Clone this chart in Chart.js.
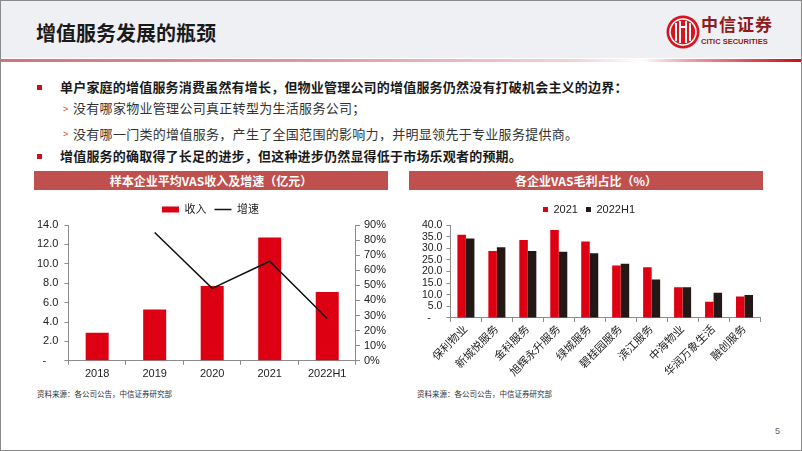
<!DOCTYPE html>
<html lang="zh-CN">
<head>
<meta charset="utf-8">
<script src="https://cdn.jsdelivr.net/npm/chart.js@4.4.1/dist/chart.umd.min.js"></script>
<style>
  html, body { margin: 0; padding: 0; background: #fff; }
  #page {
    position: relative; width: 800px; height: 449px; overflow: hidden;
    border: 1px solid #8a8a8a; background: #fff;
    font-family: "Noto Sans CJK SC", "Liberation Sans", sans-serif;
  }
  #header { position: absolute; left: 0; top: 0; width: 800px; height: 57px; background: #eff0f3; }
  #redline {
    position: absolute; left: 0; top: 58px; width: 800px; height: 3px;
    background: linear-gradient(to right, #cf747b 0%, #dc9ca1 40%, #f1d4d6 72%, #fff 80%, #eaa0a3 86%, #cc0a1e 100%);
  }
  #title { position: absolute; left: 35px; top: 18px; font-size: 20px; font-weight: bold; color: #1a1a1a; line-height: 28px; }
  #logo { position: absolute; left: 665px; top: 14px; }
  #logo-cn { position: absolute; left: 700px; top: 12px; font-size: 17px; font-weight: bold; color: #8f1a20; letter-spacing: 1px; line-height: 22px; }
  #logo-en { position: absolute; left: 700px; top: 36px; font-family: "Liberation Sans", sans-serif; font-size: 7.5px; font-weight: bold; color: #8f1a20; line-height: 10px; }
  .b1 { position: absolute; left: 59px; font-size: 13px; font-weight: bold; color: #1a1a1a; line-height: 18px; letter-spacing: 0.2px; white-space: nowrap; }
  .b2 {
    position: absolute; left: 72px; font-family: "Noto Sans CJK SC", sans-serif; font-size: 13px;
    color: #333; line-height: 18px; letter-spacing: 0.3px; white-space: nowrap;
  }
  .b2 span { font-family: "Noto Sans CJK TC", "Noto Sans CJK SC", sans-serif; color: #333; }
  .sq { position: absolute; left: 36px; width: 5px; height: 5px; background: #c8101e; }
  .arr { position: absolute; left: 62px; font-size: 9px; color: #d0451b; line-height: 10px; font-family: "Liberation Sans", sans-serif; }
  .bar-title {
    position: absolute; top: 170px; height: 19px; width: 354px; background: #c0504d;
    color: #fff; font-size: 12px; font-weight: bold; text-align: center; line-height: 19px;
  }
  .src { position: absolute; top: 387px; font-size: 7.5px; color: #333; line-height: 12px; }
  #pg { position: absolute; left: 774px; top: 425px; font-family: "Liberation Sans", sans-serif; font-size: 9px; color: #666; }
  .cw { position: absolute; }
</style>
</head>
<body>
<div id="page">
  <div id="header"></div>
  <div id="redline"></div>
  <div id="title">增值服务发展的瓶颈</div>
  <svg id="logo" width="34" height="34" viewBox="0 0 34 34">
    <circle cx="17" cy="17" r="16.5" fill="#d7141f"/>
    <circle cx="17" cy="17" r="13" fill="none" stroke="#fff" stroke-width="1.6"/>
    <rect x="9" y="8" width="2" height="18" fill="#fff"/>
    <rect x="13" y="6" width="2" height="22" fill="#fff"/>
    <rect x="19" y="6" width="2" height="22" fill="#fff"/>
    <rect x="23" y="8" width="2" height="18" fill="#fff"/>
    <rect x="15" y="11" width="4" height="2" fill="#fff"/>
  </svg>
  <div id="logo-cn">中信证券</div>
  <div id="logo-en">CITIC SECURITIES</div>

  <div class="sq" style="top:84px"></div>
  <div class="b1" style="top:77px">单户家庭的增值服务消费虽然有增长，但物业管理公司的增值服务仍然没有打破机会主义的边界：</div>
  <div class="arr" style="top:103px">&gt;</div>
  <div class="b2" style="top:98px">没有<span>哪</span>家物业管理公司真正转型为生活服务公司；</div>
  <div class="arr" style="top:128px">&gt;</div>
  <div class="b2" style="top:124px">没有<span>哪</span>一门类的增值服务，产生了全国范围的影响力，并明显领先于专业服务提供商。</div>
  <div class="sq" style="top:153px"></div>
  <div class="b1" style="top:146px">增值服务的确取得了长足的进步，但这种进步仍然显得低于市场乐观者的预期。</div>

  <div class="bar-title" style="left:33px">样本企业平均VAS收入及增速（亿元）</div>
  <div class="bar-title" style="left:408px">各企业VAS毛利占比（%）</div>

  <div class="cw" style="left:20px; top:193px; width:375px; height:190px;"><canvas id="c1"></canvas></div>
  <div class="cw" style="left:405px; top:193px; width:370px; height:186px;"><canvas id="c2"></canvas></div>

  <div class="src" style="left:36px">资料来源：各公司公告，中信证券研究部</div>
  <div class="src" style="left:416px">资料来源：各公司公告，中信证券研究部</div>
  <div id="pg">5</div>
</div>

<script>
// Left chart data
const years = ['2018', '2019', '2020', '2021', '2022H1'];
const revenue = [2.9, 5.3, 7.7, 12.7, 7.1];
const growth = [null, 85, 48, 66, 28];

// Right chart data
const companies = ['保利物业', '新城悦服务', '金科服务', '旭辉永升服务', '绿城服务', '碧桂园服务', '滨江服务', '中海物业', '华润万象生活', '融创服务'];
const margin2021 = [35.8, 28.8, 33.6, 37.9, 32.9, 22.6, 21.8, 13.2, 7.0, 9.2];
const margin2022H1 = [34.2, 30.4, 28.8, 28.5, 27.8, 23.3, 16.6, 13.2, 10.9, 9.9];

const RED = '#dc0012';
const DARK = '#231815';
const AXIS = '#8c8c8c';

Chart.defaults.font.family = '"Liberation Sans", "Noto Sans CJK SC", sans-serif';
Chart.defaults.color = '#222';
Chart.defaults.animation = false;

const axisGrid = { display: true, drawOnChartArea: false, drawTicks: true, tickLength: 4, color: AXIS };
const axisBorder = { display: true, color: AXIS, width: 1 };

new Chart(document.getElementById('c1'), {
  type: 'bar',
  data: {
    labels: years,
    datasets: [
      {
        type: 'line',
        label: '增速',
        data: growth,
        yAxisID: 'y1',
        borderColor: '#111',
        backgroundColor: '#111',
        borderWidth: 1.5,
        pointRadius: 0,
        pointStyle: 'line',
        tension: 0,
        order: 0
      },
      {
        label: '收入',
        data: revenue,
        yAxisID: 'y',
        backgroundColor: RED,
        borderWidth: 0,
        pointStyle: 'rect',
        categoryPercentage: 0.4,
        barPercentage: 1.0,
        order: 1
      }
    ]
  },
  options: {
    responsive: true,
    maintainAspectRatio: false,
    layout: { padding: { left: 10, right: 6, top: 2, bottom: 0 } },
    plugins: {
      legend: {
        display: true,
        reverse: true,
        labels: {
          usePointStyle: true,
          pointStyleWidth: 17,
          boxHeight: 6,
          padding: 8,
          font: { size: 11 },
          color: '#222'
        }
      },
      tooltip: { enabled: false }
    },
    scales: {
      x: {
        grid: axisGrid,
        border: axisBorder,
        ticks: { font: { size: 11 }, color: '#222', padding: 3 }
      },
      y: {
        position: 'left',
        min: 0,
        max: 14,
        grid: axisGrid,
        border: axisBorder,
        ticks: {
          stepSize: 2,
          autoSkip: false,
          font: { size: 11 },
          color: '#222',
          padding: 6,
          callback: v => v === 0 ? '-    ' : v.toFixed(1)
        }
      },
      y1: {
        position: 'right',
        min: 0,
        max: 90,
        grid: axisGrid,
        border: axisBorder,
        ticks: {
          stepSize: 10,
          autoSkip: false,
          font: { size: 11 },
          color: '#222',
          padding: 4,
          callback: v => v + '%'
        }
      }
    }
  }
});

new Chart(document.getElementById('c2'), {
  type: 'bar',
  data: {
    labels: companies,
    datasets: [
      {
        label: '2021',
        data: margin2021,
        backgroundColor: RED,
        borderWidth: 0,
        pointStyle: 'rect',
        categoryPercentage: 0.55,
        barPercentage: 1.0
      },
      {
        label: '2022H1',
        data: margin2022H1,
        backgroundColor: DARK,
        borderWidth: 0,
        pointStyle: 'rect',
        categoryPercentage: 0.55,
        barPercentage: 1.0
      }
    ]
  },
  options: {
    responsive: true,
    maintainAspectRatio: false,
    layout: { padding: { left: 12, right: 16, top: 2, bottom: 0 } },
    plugins: {
      legend: {
        display: true,
        labels: {
          usePointStyle: true,
          pointStyleWidth: 5,
          boxHeight: 5,
          padding: 8,
          font: { size: 11 },
          color: '#222'
        }
      },
      tooltip: { enabled: false }
    },
    scales: {
      x: {
        grid: axisGrid,
        border: axisBorder,
        ticks: { font: { size: 11 }, color: '#222', minRotation: 45, maxRotation: 45, padding: 1, autoSkip: false }
      },
      y: {
        min: 0,
        max: 40,
        grid: axisGrid,
        border: axisBorder,
        ticks: {
          stepSize: 5,
          autoSkip: false,
          font: { size: 10.5 },
          color: '#222',
          padding: 4,
          callback: v => v === 0 ? '-    ' : v.toFixed(1)
        }
      }
    }
  }
});
</script>
</body>
</html>
